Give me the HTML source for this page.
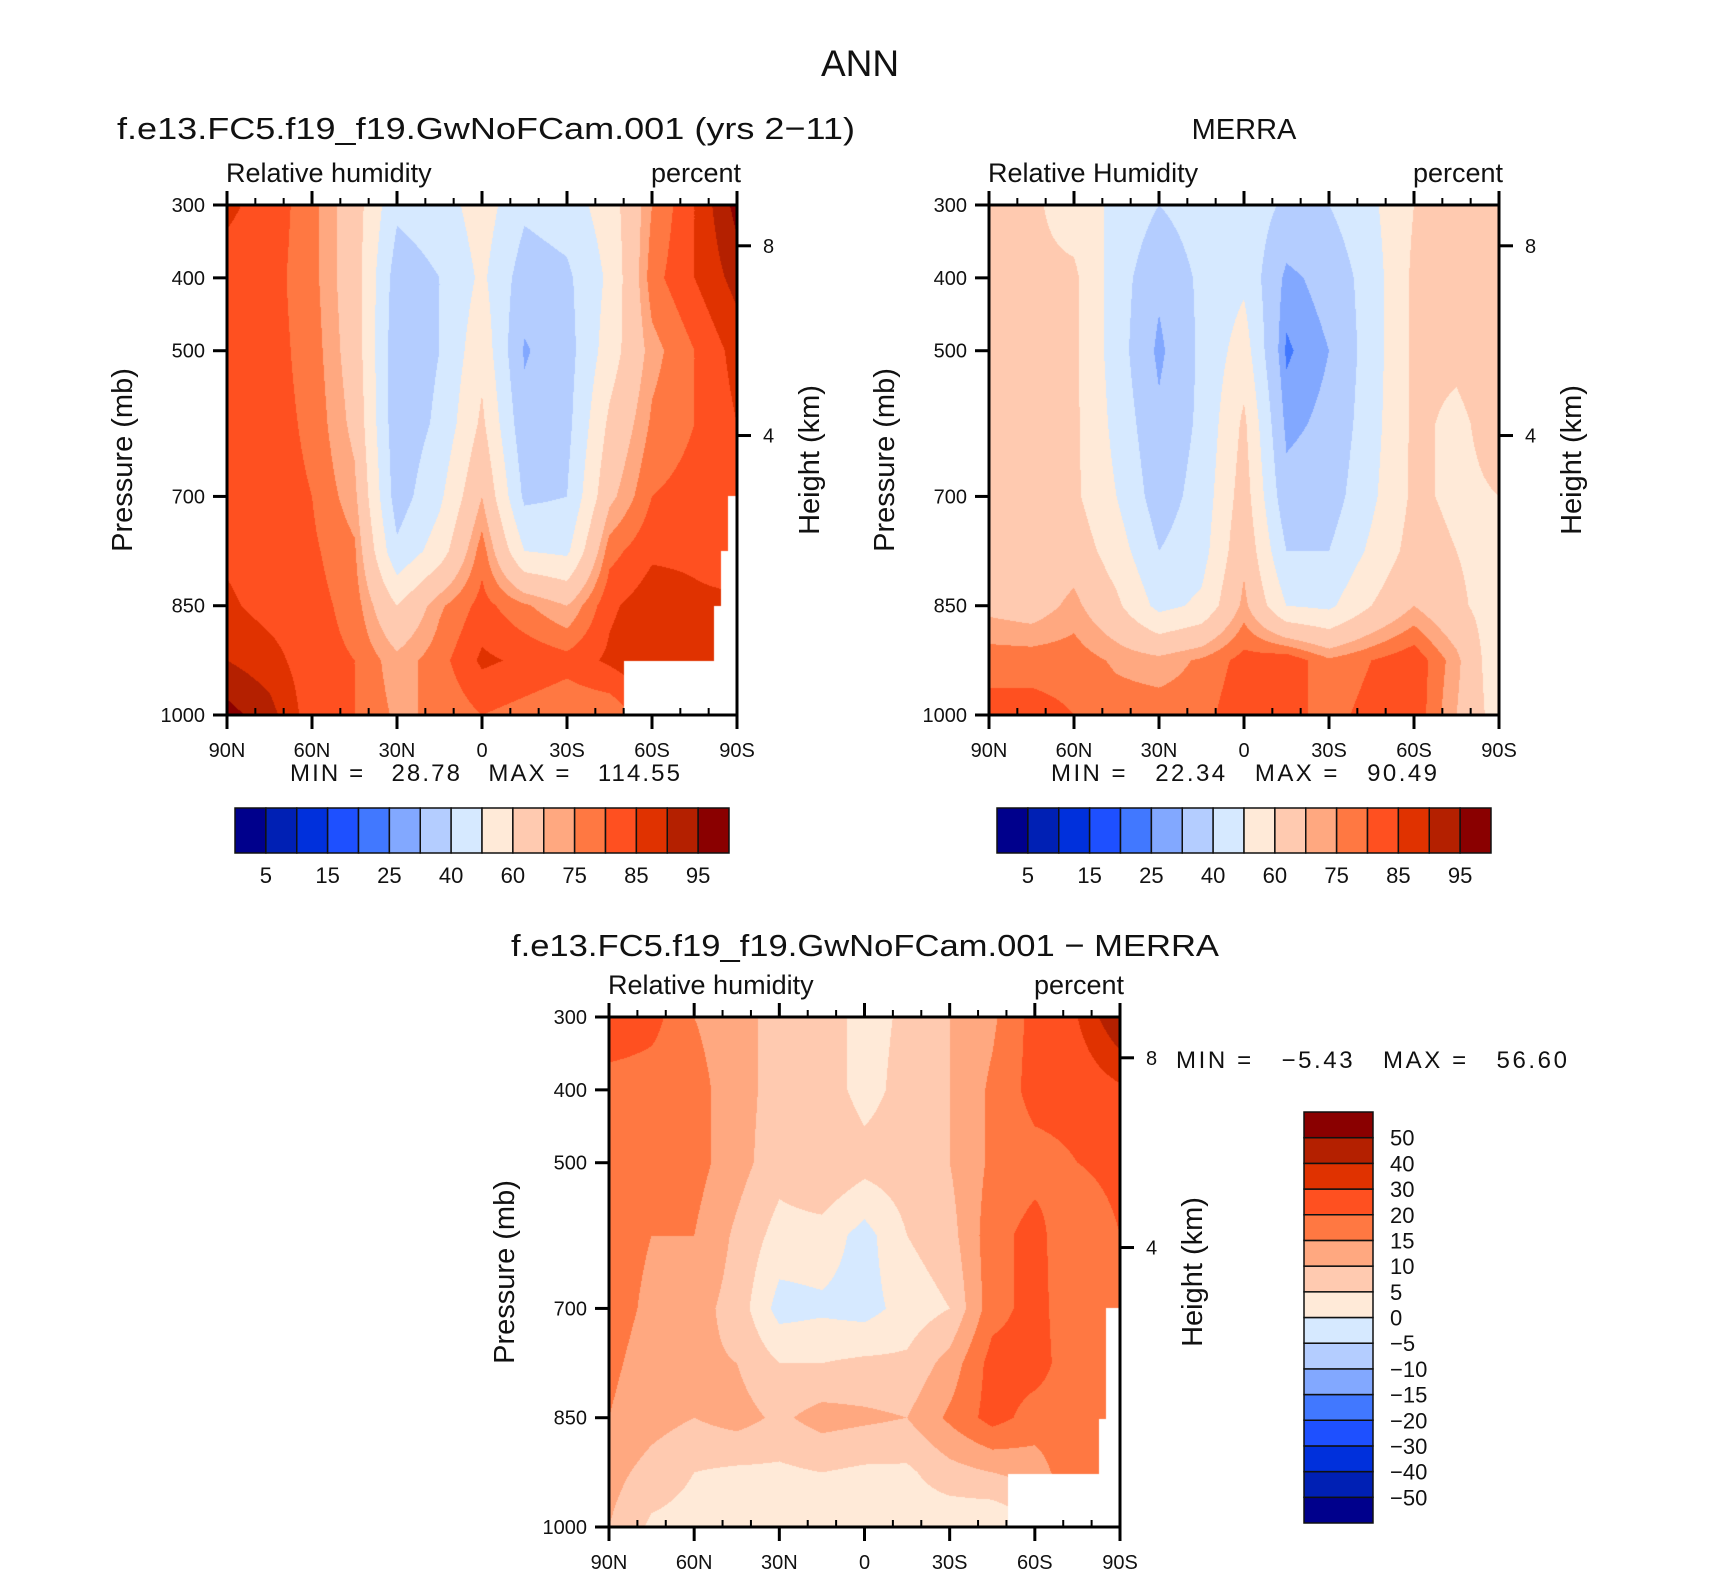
<!DOCTYPE html>
<html><head><meta charset="utf-8">
<style>
html,body{margin:0;padding:0;background:#fff;}
#root{position:relative;width:1710px;height:1575px;overflow:hidden;background:#fff;}
canvas{position:absolute;}
svg{position:absolute;left:0;top:0;}
text{font-family:"Liberation Sans",sans-serif;fill:#111;}
.pre{white-space:pre;}
</style></head>
<body>
<div id="root">
<canvas id="c1" width="510" height="510" style="left:227px;top:205px"></canvas>
<canvas id="c2" width="510" height="510" style="left:989px;top:205px"></canvas>
<canvas id="c3" width="511" height="510" style="left:609px;top:1017px"></canvas>
<svg id="ov" width="1710" height="1575">
<text x="860" y="76" font-size="37" text-anchor="middle">ANN</text>
<text x="117" y="139" font-size="31" textLength="738" lengthAdjust="spacingAndGlyphs">f.e13.FC5.f19_f19.GwNoFCam.001 (yrs 2−11)</text>
<text x="1244" y="139" font-size="29" text-anchor="middle">MERRA</text>
<text x="511" y="956" font-size="31" textLength="708" lengthAdjust="spacingAndGlyphs">f.e13.FC5.f19_f19.GwNoFCam.001 − MERRA</text>
</svg>
</div>
<script>
const levelsAbs=[5,10,15,20,25,30,40,50,60,70,75,80,85,90,95];
const levelsDiff=[-50,-40,-30,-20,-15,-10,-5,0,5,10,15,20,30,40,50];
const palette=["#00008c","#0020b4","#0030dc","#1e50ff","#4178ff","#82a8ff","#b4cdff","#d6e9ff","#ffead8","#ffcab0","#ffa880","#ff7842","#ff5020","#e03200","#b42000","#8a0000"];
const lats=["90N","75N","60N","45N","30N","15N","0","15S","30S","45S","60S","75S","90S"];
const pressures=[300,400,500,600,700,775,850,925,1000];
const modelRH=[
[86,83,77,65,42,45,55,42,45,55,75,85,97],
[83,82,77,65,35,40,52,35,38,52,78,85,92],
[82,82,78,66,33,40,57,29,36,55,73,80,87],
[82,82,79,68,33,42,62,33,37,62,76,80,85],
[82,82,80,72,35,48,70,38,40,68,80,82,82],
[84,82,81,76,42,55,78,50,48,78,84,84,82],
[86,83,82,78,60,74,82,76,70,84,88,86,86],
[90,87,82,80,72,78,86,84,82,86,90,88,88],
[97,92,82,80,74,76,80,78,76,76,84,84,84]];
const merraRH=[
[62,62,55,48,40,45,47,38,40,48,60,62,62],
[62,62,62,45,32,42,48,28,33,45,62,62,68],
[62,62,62,45,28,42,55,24,30,45,62,62,66],
[62,62,62,47,32,42,62,28,32,46,62,58,64],
[62,62,62,50,35,44,65,33,35,48,62,58,60],
[63,63,66,55,40,46,68,40,40,52,64,60,56],
[68,66,72,62,47,52,72,50,48,60,70,62,55],
[78,78,78,74,72,76,82,84,76,80,84,72,52],
[82,82,80,78,78,78,84,82,78,82,84,70,55]];
const diffRH=[
[25,22,15,12,8,8,3,6,10,14,22,30,50],
[17,17,17,12,8,8,3,7,10,16,22,22,28],
[17,17,17,12,7,10,7,8,10,16,18,20,22],
[17,15,15,9,3,3,-2,5,8,18,22,15,20],
[17,14,12,8,-2,-1,-2,2,5,18,22,16,20],
[16,13,11,10,5,5,6,6,12,22,22,17,20],
[15,12,10,12,9,12,11,10,16,22,18,18,18],
[12,8,5,4,4,5,4,4,8,10,12,20,20],
[10,4,3,2,0,3,3,2,1,0,4,10,10]];
// missing-data regions: [degrees from 90N start, end, top pressure]
const maskModel=[[140,172,926],[172,174.2,850],[174.2,177,775],[177,180,700]];
const maskMerra=[];
const maskDiff=[[140.6,172.7,927],[172.7,175,852],[175,180,700]];
const statsModel=["28.78","114.55"];
const statsMerra=["22.34","90.49"];
const statsDiff=["−5.43","56.60"];
const xTicks=["90N","60N","30N","0","30S","60S","90S"];
const pTicks=[300,400,500,700,850,1000];
const hTicks=[8,4];

function hex(c){return [parseInt(c.substr(1,2),16),parseInt(c.substr(3,2),16),parseInt(c.substr(5,2),16)];}
const pal=palette.map(hex);
function colorIdx(v,lv){let i=0;while(i<lv.length&&v>=lv[i])i++;return i;}
function interp(grid,d,p){
  let cx=d/15;if(cx<0)cx=0;if(cx>12)cx=12;
  let c0=Math.min(11,Math.floor(cx)),fx=cx-c0;
  let r0=0;while(r0<pressures.length-2&&p>pressures[r0+1])r0++;
  let fy=(p-pressures[r0])/(pressures[r0+1]-pressures[r0]);fy=Math.max(0,Math.min(1,fy));
  const a=grid[r0][c0],b=grid[r0][c0+1],c=grid[r0+1][c0],e=grid[r0+1][c0+1];
  return a*(1-fx)*(1-fy)+b*fx*(1-fy)+c*(1-fx)*fy+e*fx*fy;
}
function drawField(id,grid,lv,mask){
  const cv=document.getElementById(id),ctx=cv.getContext('2d');
  const w=cv.width,h=cv.height,img=ctx.createImageData(w,h);
  for(let y=0;y<h;y++){
    const p=300+(y+0.5)/h*700;
    for(let x=0;x<w;x++){
      const d=(x+0.5)/w*180;
      let masked=false;
      for(const m of mask){if(d>=m[0]&&d<m[1]&&p>=m[2]){masked=true;break;}}
      const k=(y*w+x)*4;
      if(masked){img.data[k]=255;img.data[k+1]=255;img.data[k+2]=255;img.data[k+3]=255;continue;}
      const col=pal[colorIdx(interp(grid,d,p),lv)];
      img.data[k]=col[0];img.data[k+1]=col[1];img.data[k+2]=col[2];img.data[k+3]=255;
    }
  }
  ctx.putImageData(img,0,0);
}
drawField('c1',modelRH,levelsAbs,maskModel);
drawField('c2',merraRH,levelsAbs,maskMerra);
drawField('c3',diffRH,levelsDiff,maskDiff);

const NS="http://www.w3.org/2000/svg";
const ov=document.getElementById('ov');
function mk(tag,attrs,parent){const e=document.createElementNS(NS,tag);for(const k in attrs)e.setAttribute(k,attrs[k]);(parent||ov).appendChild(e);return e;}
function txt(s,attrs,parent){const e=mk('text',attrs,parent);e.textContent=s;return e;}

function panel(name,L,T,W,H,leftLabel,stats,statsPos){
  const g=mk('g',{});
  
  
  const xs=d=>L+d/180*W, ys=p=>T+(p-300)/700*H;
  for(let d=0;d<=180;d+=10){
    const major=d%30===0;
    const t1=mk('line',{x1:xs(d),x2:xs(d),y1:T+H,y2:major?T+H+14:T+H-7,stroke:'#000','stroke-width':major?3:2},g);
    
    
    const t2=mk('line',{x1:xs(d),x2:xs(d),y1:T,y2:major?T-14:T-7,stroke:'#000','stroke-width':major?3:2},g);
    
    
  }
  xTicks.forEach((s,i)=>{
    const t=txt(s,{x:xs(i*30),y:T+H+42,'font-size':20,'text-anchor':'middle'},g);
    
    
  });
  pTicks.forEach(p=>{
    const l=mk('line',{x1:L-14,x2:L,y1:ys(p),y2:ys(p),stroke:'#000','stroke-width':3},g);
    
    
    const t=txt(String(p),{x:L-22,y:ys(p)+7,'font-size':20,'text-anchor':'end'},g);
    
    
  });
  const hp=hk=>1013.25*Math.pow(1-2.25577e-5*hk*1000,5.25588);
  hTicks.forEach(hk=>{
    const y=ys(hp(hk));
    const l=mk('line',{x1:L+W,x2:L+W+14,y1:y,y2:y,stroke:'#000','stroke-width':3},g);
    
    
    const t=txt(String(hk),{x:L+W+26,y:y+7,'font-size':20},g);
    
    
  });
  const fr=mk('rect',{x:L,y:T,width:W,height:H,fill:'none',stroke:'#000','stroke-width':3},g);
  
  
  const a=txt('Pressure (mb)',{x:0,y:0,'font-size':29,'text-anchor':'middle',class:'pre',transform:`translate(${L-95},${T+H/2}) rotate(-90)`},g);
  
  
  const b=txt('Height (km)',{x:0,y:0,'font-size':29,'text-anchor':'middle',class:'pre',transform:`translate(${L+W+82},${T+H/2}) rotate(-90)`},g);
  
  
  const c=txt(leftLabel,{x:L-1,y:T-23,'font-size':27},g);
  
  
  const u=txt('percent',{x:L+W+4,y:T-23,'font-size':27,'text-anchor':'end'},g);
  
  
  const s=txt('MIN =   '+stats[0]+'   MAX =   '+stats[1],{x:statsPos[0],y:statsPos[1],'font-size':24,class:'pre',textLength:statsPos[2],lengthAdjust:'spacing'},g);
  
  
}
panel('model',227,205,510,510,'Relative humidity',statsModel,[290,781,390]);
panel('merra',989,205,510,510,'Relative Humidity',statsMerra,[1051,781,386]);
panel('difference',609,1017,511,510,'Relative humidity',statsDiff,[1176,1068,391]);

function hbar(name,L,T,W,H){
  const g=mk('g',{});
  
  
  const bw=W/palette.length;
  palette.forEach((c,i)=>{
    const r=mk('rect',{x:L+i*bw,y:T,width:bw,height:H,fill:c,stroke:'#111','stroke-width':1.5},g);
    
    
  });
  levelsAbs.forEach((v,i)=>{
    if(i%2!==0)return;
    const t=txt(String(v),{x:L+(i+1)*bw,y:T+H+30,'font-size':22,'text-anchor':'middle'},g);
    
    
  });
}
hbar('model-colorbar',235,808,494,45);
hbar('merra-colorbar',997,808,494,45);

(function(){
  const L=1304,T=1112,W=69,H=411;
  const g=mk('g',{});
  
  
  const bh=H/palette.length;
  palette.forEach((c,i)=>{
    const r=mk('rect',{x:L,y:T+(palette.length-1-i)*bh,width:W,height:bh,fill:c,stroke:'#111','stroke-width':1.5},g);
    
    
  });
  levelsDiff.forEach((v,i)=>{
    const y=T+(palette.length-1-i)*bh;
    const t=txt(v<0?'−'+Math.abs(v):String(v),{x:1390,y:y+8,'font-size':22},g);
    
    
  });
})();
</script>
</body></html>
